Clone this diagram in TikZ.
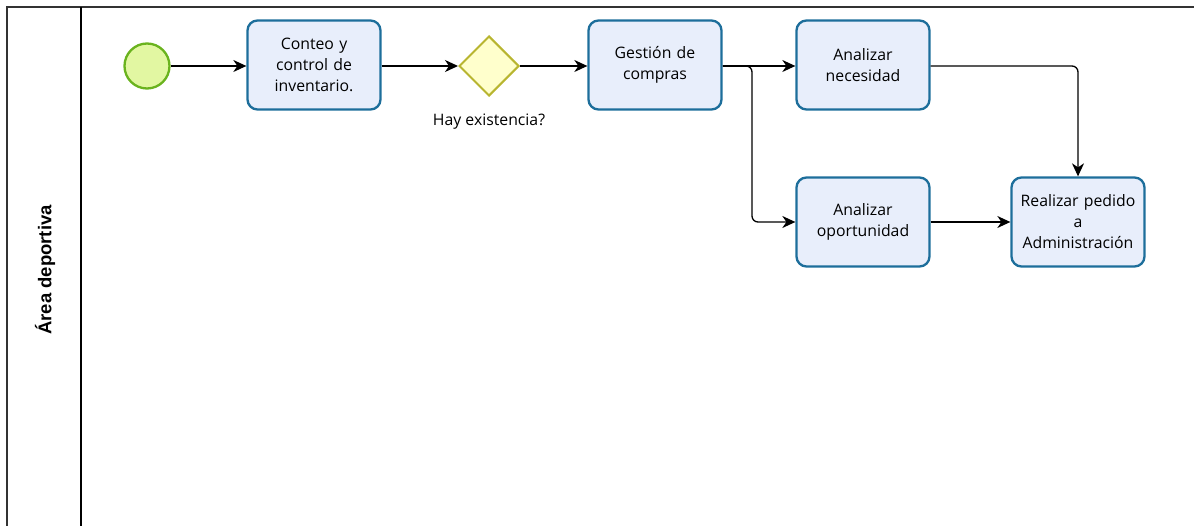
\documentclass[tikz,border=0pt]{standalone}
\usepackage{fontspec}
\setmainfont{Open Sans}
\newfontfamily\lanefont{Liberation Sans}
\usetikzlibrary{shapes.geometric,arrows.meta}
\definecolor{taskfill}{HTML}{E8EEFB}
\definecolor{taskline}{HTML}{1D6E9B}
\definecolor{startfill}{HTML}{E2F7A2}
\definecolor{startline}{HTML}{6AB31E}
\definecolor{gatefill}{HTML}{FFFFCC}
\definecolor{gateline}{HTML}{B8B530}
\definecolor{poolline}{HTML}{333333}
\tikzset{
  task/.style={draw=taskline, fill=taskfill, line width=2.3pt, rounded corners=10pt,
    minimum width=133pt, minimum height=89pt, align=center, text width=130pt,
    font=\fontsize{15.8}{21}\selectfont, inner sep=0pt},
  startev/.style={circle, draw=startline, fill=startfill, line width=2.3pt,
    minimum size=45pt, inner sep=0pt},
  gate/.style={diamond, draw=gateline, fill=gatefill, line width=2pt,
    minimum width=60pt, minimum height=60pt, inner sep=0pt},
  flow/.style={line width=1.3pt, -{Stealth[length=13pt,width=12pt,inset=4pt]}},
  lbl/.style={font=\fontsize{15.8}{18}\selectfont}
}
\begin{document}
\begin{tikzpicture}[x=1pt,y=-1pt]
\useasboundingbox (0,0) rectangle (1194,526);
% pool and lane frame
\draw[poolline, line width=1.5pt] (7,526) -- (7,7) -- (1194,7);
\draw[black, line width=1.5pt] (81,7) -- (81,526);
\node[rotate=90, font=\lanefont\bfseries\fontsize{18.5}{20}\selectfont] (lane) at (45,270) {Área deportiva};
% flow elements
\node[startev] (start) at (147,66) {};
\node[task] (t1) at (314,65) {Conteo y\\control de\\inventario.};
\node[gate] (g) at (489,66) {};
\node[lbl] (glbl) at (489,122) {Hay existencia?};
\node[task] (t2) at (655,65) {Gestión de\\compras};
\node[task] (t3) at (863,65) {Analizar\\necesidad};
\node[task] (t4) at (863,222) {Analizar\\oportunidad};
\node[task] (t5) at (1078,222) {Realizar pedido\\a\\Administración};
\coordinate (split) at (752,66);
\coordinate (join) at (1078,66);
% sequence flows
\draw[flow] (start) -- (t1.west |- start);
\draw[flow] (t1.east |- g) -- (g);
\draw[flow] (g) -- (t2.west |- g);
\draw[flow] (t2.east |- split) -- (t3.west |- split);
\draw[flow, rounded corners=6pt] (t2.east |- split) -- (split) -- (split |- t4) -- (t4);
\draw[flow, rounded corners=6pt] (t3.east |- join) -- (join) -- (t5);
\draw[flow] (t4) -- (t5);
\end{tikzpicture}
\end{document}
